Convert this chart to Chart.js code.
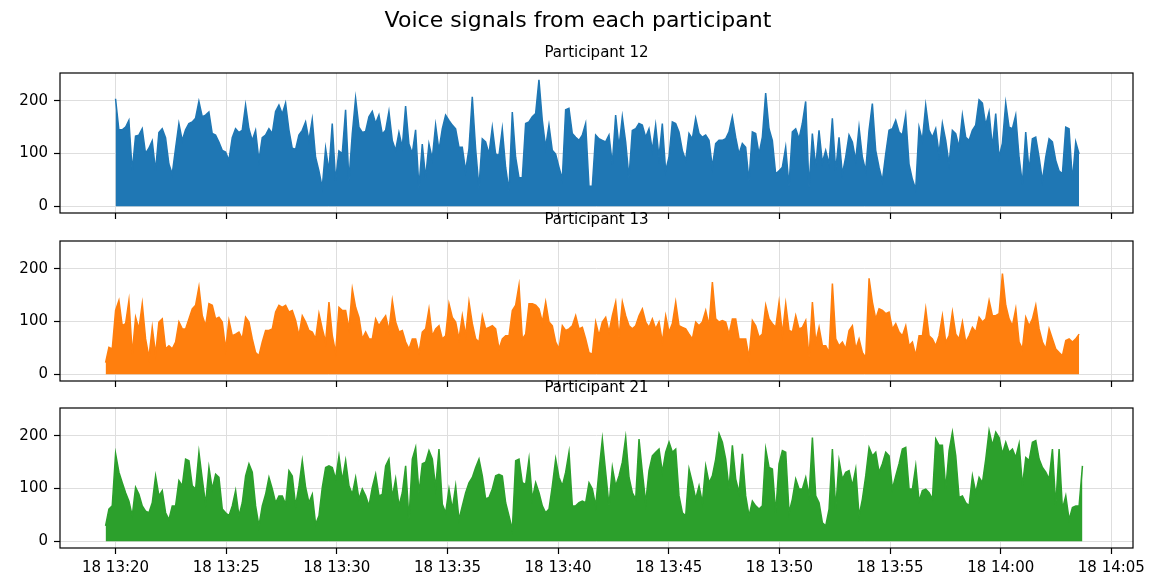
<!DOCTYPE html>
<html>
<head>
<meta charset="utf-8">
<script src="https://cdn.jsdelivr.net/npm/chart.js@4.4.1/dist/chart.umd.min.js"></script>
<style>
  html, body { margin: 0; padding: 0; background: #fff; }
  #figure { position: relative; width: 1161px; height: 581px; }
  #figure canvas { position: absolute; left: 0; top: 0; }
</style>
</head>
<body>
<div id="figure">
  <canvas id="p12" width="1161" height="581"></canvas>
  <canvas id="p13" width="1161" height="581"></canvas>
  <canvas id="p21" width="1161" height="581"></canvas>
</div>
<script>
// values, one sample every ~9 s
const SAMPLE_STEP_S = 9.04;
const P12_START_S = 1200; // seconds after 13:00
const P13_START_S = 1173;
const P21_START_S = 1173;

const p12Values = [
  204, 145, 145, 150, 163, 67, 133, 135, 147, 100, 110, 124, 67, 140, 147, 130, 80, 61, 110, 157,
  125, 145, 157, 160, 167, 199, 170, 173, 179, 138, 135, 122, 106, 103, 87, 130, 147, 140, 144, 192,
  147, 125, 144, 87, 130, 135, 147, 138, 180, 192, 175, 196, 145, 110, 108, 135, 144, 160, 125, 165,
  93, 67, 35, 110, 67, 157, 48, 105, 100, 183, 48, 137, 205, 150, 140, 142, 170, 180, 157, 173,
  137, 144, 180, 125, 106, 140, 112, 190, 118, 100, 145, 35, 118, 54, 118,
  90, 154, 106, 147, 173, 163, 154, 147, 112, 112, 67, 109, 208, 109, 35, 128, 122, 99, 150, 99,
  96, 147, 74, 29, 179, 93, 54, 54, 157, 160, 170, 176, 240, 163, 112, 154, 106, 99, 74, 51,
  183, 186, 138, 131, 125, 135, 157, 38, 38, 135, 128, 125, 122, 135, 80, 173, 112, 170, 122, 54,
  144, 147, 157, 154, 131, 147, 106, 154, 93, 157, 67, 93, 160, 157, 141, 106, 87, 138, 128, 167,
  138, 131, 135, 125, 74, 119, 125, 125, 128, 141, 170, 131, 99, 119, 112, 48, 141, 138, 99,
  131, 215, 147, 125, 61, 67, 74, 112, 38, 141, 147, 128, 157, 199, 35, 138, 74, 144, 83, 106,
  80, 167, 67, 131, 61, 93, 135, 122, 87, 150, 93, 67, 144, 195, 106, 74, 48, 99, 144, 147,
  163, 141, 135, 173, 80, 51, 32, 150, 125, 192, 144, 131, 147, 99, 157, 125, 80, 144, 138, 112,
  173, 131, 125, 144, 154, 202, 196, 154, 179, 112, 176, 93, 119, 196, 150, 147, 173, 93, 42, 141,
  67, 128, 131, 93, 48, 93, 128, 122, 87, 67, 61, 150, 147, 48, 122, 99,
];

const p13Values = [
  22, 51, 48, 121, 140, 92, 96, 140, 38, 108, 86, 134, 67, 32, 89, 38, 99, 105, 48, 54,
  48, 61, 99, 86, 86, 105, 124, 131, 166, 111, 92, 134, 131, 105, 108, 99, 48, 102, 73, 76,
  80, 67, 108, 99, 67, 41, 35, 61, 83, 83, 86, 118, 131, 127, 131, 118, 121, 102, 73, 111,
  99, 83, 80, 67, 115, 86, 61, 137, 73, 41, 127, 121, 121, 86, 162, 127, 108, 67, 80, 67,
  67, 105, 92, 102, 111, 83, 140, 99, 80, 83, 61, 48, 67, 67, 41, 80, 86, 124,
  73, 86, 92, 67, 73, 134, 108, 99, 67, 111, 73, 137, 96, 67, 61, 111, 86, 89, 92, 86,
  48, 67, 73, 73, 121, 131, 169, 67, 76, 134, 134, 131, 124, 99, 137, 99, 92, 61, 48, 92,
  83, 86, 92, 111, 86, 89, 67, 41, 38, 99, 73, 99, 108, 80, 111, 137, 70, 137, 111, 92,
  86, 92, 111, 124, 99, 89, 105, 86, 99, 61, 111, 80, 96, 137, 92, 89, 86, 76, 67, 99,
  92, 99, 121, 92, 175, 105, 99, 102, 99, 76, 105, 105, 67, 67, 67, 32, 102, 92, 70,
  76, 131, 105, 96, 89, 137, 76, 134, 83, 80, 111, 86, 89, 102, 32, 137, 61, 89, 54, 54,
  41, 172, 67, 54, 61, 48, 83, 92, 48, 67, 41, 32, 182, 137, 105, 124, 121, 115, 118, 86,
  96, 80, 73, 92, 54, 61, 35, 73, 73, 124, 73, 67, 54, 73, 111, 61, 73, 118, 76, 67,
  99, 61, 73, 89, 80, 108, 99, 105, 140, 111, 111, 115, 191, 131, 105, 92, 124, 61, 48, 108,
  92, 105, 131, 86, 61, 48, 86, 67, 48, 41, 35, 64, 67, 61, 67, 76,
];

const p21Values = [
  29, 61, 67, 166, 131, 111, 92, 76, 48, 102, 89, 67, 57, 54, 73, 124, 86, 96, 54, 41,
  67, 67, 115, 105, 156, 153, 105, 99, 169, 118, 70, 140, 99, 127, 121, 61, 54, 48, 67, 96,
  48, 73, 124, 147, 131, 67, 29, 67, 89, 121, 99, 73, 86, 86, 70, 134, 124, 67, 105, 153,
  102, 73, 89, 32, 48, 102, 140, 143, 140, 118, 162, 115, 153, 105, 89, 121, 80, 99, 86, 67,
  102, 127, 86, 89, 143, 156, 83, 118, 67, 92, 143, 41, 156, 178, 92, 147, 150, 172,
  156, 102, 175, 70, 54, 99, 61, 105, 41, 67, 92, 111, 121, 140, 156, 124, 80, 83, 99, 124,
  127, 124, 73, 48, 22, 153, 156, 111, 108, 156, 80, 111, 92, 67, 54, 61, 105, 156, 121, 105,
  131, 169, 67, 67, 73, 76, 73, 111, 99, 67, 134, 194, 131, 67, 140, 105, 124, 150, 197, 121,
  92, 80, 194, 131, 73, 134, 162, 169, 175, 131, 169, 188, 169, 175, 86, 54, 48, 137, 111, 80,
  105, 73, 143, 111, 124, 156, 204, 188, 156, 99, 182, 118, 92, 166, 86, 48, 76, 67, 61,
  67, 175, 140, 137, 54, 147, 172, 169, 54, 80, 118, 99, 99, 121, 86, 197, 86, 73, 35, 29,
  61, 175, 61, 153, 118, 131, 134, 105, 137, 48, 80, 124, 178, 162, 169, 131, 147, 169, 162, 99,
  124, 147, 175, 178, 99, 99, 143, 76, 96, 99, 92, 80, 194, 182, 182, 99, 172, 207, 162, 83,
  86, 73, 67, 124, 92, 121, 111, 156, 210, 182, 207, 197, 166, 188, 169, 175, 159, 185, 105, 159,
  153, 188, 191, 156, 140, 131, 118, 175, 67, 175, 61, 86, 41, 64, 67, 67, 143,
];

const X_TICK_MINUTES = [20, 25, 30, 35, 40, 45, 50, 55, 60, 65];
const X_TICK_LABELS = ['18 13:20', '18 13:25', '18 13:30', '18 13:35', '18 13:40',
  '18 13:45', '18 13:50', '18 13:55', '18 14:00', '18 14:05'];
const Y_TICKS = [0, 100, 200];

const FIG_W = 1161;
const FIG_H = 581;
const X_MIN = 17.49;
const X_MAX = 65.98;
const Y_MIN = -13;
const Y_MAX = 253;
const FONT = '"DejaVu Sans", sans-serif';

const panels = [
  { id: 'p12', title: 'Participant 12', values: p12Values, start: P12_START_S, color: '#1f77b4', top: 73, bottom: 213, titleY: 53, labels: false },
  { id: 'p13', title: 'Participant 13', values: p13Values, start: P13_START_S, color: '#ff7f0e', top: 241, bottom: 381, titleY: 220, labels: false },
  { id: 'p21', title: 'Participant 21', values: p21Values, start: P21_START_S, color: '#2ca02c', top: 408, bottom: 548, titleY: 388, labels: true },
];

const frame = {
  id: 'frame',
  afterDraw(chart) {
    const { ctx, chartArea: a } = chart;
    ctx.save();
    ctx.strokeStyle = '#000';
    ctx.lineWidth = 1.2;
    ctx.strokeRect(a.left, a.top, a.right - a.left, a.bottom - a.top);
    ctx.restore();
  },
};

const texts = {
  id: 'texts',
  afterDraw(chart, args, opts) {
    const { ctx, chartArea: a } = chart;
    ctx.save();
    ctx.fillStyle = '#000';
    ctx.textAlign = 'center';
    ctx.textBaseline = 'middle';
    (opts.items || []).forEach((item) => {
      ctx.font = `${item.size}px ${FONT}`;
      ctx.fillText(item.text, item.x ?? (a.left + a.right) / 2, item.y);
    });
    ctx.restore();
  },
};

panels.forEach((panel, index) => {
  const xHeight = panel.labels ? 28 : 6;
  const items = [{ text: panel.title, y: panel.titleY, size: 15 }];
  if (index === 0) {
    items.push({ text: 'Voice signals from each participant', x: 578, y: 21, size: 22 });
  }

  new Chart(document.getElementById(panel.id), {
    type: 'line',
    data: {
      datasets: [
        {
          data: panel.values.map((value, i) => ({ x: (panel.start + i * SAMPLE_STEP_S) / 60, y: value })),
          borderColor: panel.color,
          backgroundColor: panel.color,
          borderWidth: 1.5,
          fill: 'origin',
          pointRadius: 0,
          tension: 0,
        },
      ],
    },
    options: {
      responsive: false,
      animation: false,
      events: [],
      layout: { padding: { top: panel.top, bottom: FIG_H - panel.bottom - xHeight, left: 0, right: FIG_W - 1133 } },
      plugins: {
        legend: { display: false },
        tooltip: { enabled: false },
        texts: { items },
      },
      scales: {
        x: {
          type: 'linear',
          min: X_MIN,
          max: X_MAX,
          afterBuildTicks: (scale) => { scale.ticks = X_TICK_MINUTES.map((value) => ({ value })); },
          afterFit: (scale) => { scale.height = xHeight; },
          border: { display: false },
          grid: { color: '#dedede', lineWidth: 1, tickColor: '#000', tickLength: 6, tickWidth: 1.2 },
          ticks: {
            display: panel.labels,
            maxRotation: 0,
            autoSkip: false,
            padding: 5,
            color: '#000',
            font: { family: FONT, size: 15 },
            callback: (value) => X_TICK_LABELS[X_TICK_MINUTES.indexOf(value)],
          },
        },
        y: {
          min: Y_MIN,
          max: Y_MAX,
          afterBuildTicks: (scale) => { scale.ticks = Y_TICKS.map((value) => ({ value })); },
          afterFit: (scale) => { scale.width = 60; },
          border: { display: false },
          grid: { color: '#dedede', lineWidth: 1, tickColor: '#000', tickLength: 6, tickWidth: 1.2 },
          ticks: { padding: 6, color: '#000', font: { family: FONT, size: 15 } },
        },
      },
    },
    plugins: [frame, texts],
  });
});
</script>
</body>
</html>
